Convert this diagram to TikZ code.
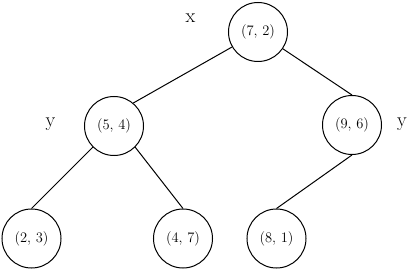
\documentclass[tikz,border=0pt]{standalone}
\begin{document}
\begin{tikzpicture}[x=1pt,y=-1pt,
  kd/.style={circle,draw,line width=1pt,minimum size=59pt,inner sep=0pt,font=\fontsize{14.5}{16}\selectfont},
  lbl/.style={anchor=base,font=\fontsize{20}{22}\selectfont,inner sep=0pt},
  edge/.style={line width=1pt}]
\useasboundingbox (0,0) rectangle (408,270);
\node[kd] (A) at (258,32) {(7, 2)};
\node[kd] (B) at (114,126) {(5, 4)};
\node[kd] (C) at (352,125) {(9, 6)};
\node[kd] (D) at (31.5,238.5) {(2, 3)};
\node[kd] (E) at (183,238.5) {(4, 7)};
\node[kd] (F) at (276.5,238.5) {(8, 1)};
\node[lbl] (lx) at (190.5,23) {x};
\node[lbl] (ly1) at (50.5,127) {y};
\node[lbl] (ly2) at (402,127) {y};
\draw[edge] (A.210) -- (B.50);
\draw[edge] (A.-34) -- (C.north);
\draw[edge] (B.south west) -- (D.north);
\draw[edge] (B.south east) -- (E.north);
\draw[edge] (C.south) -- (F.north);
\end{tikzpicture}
\end{document}
